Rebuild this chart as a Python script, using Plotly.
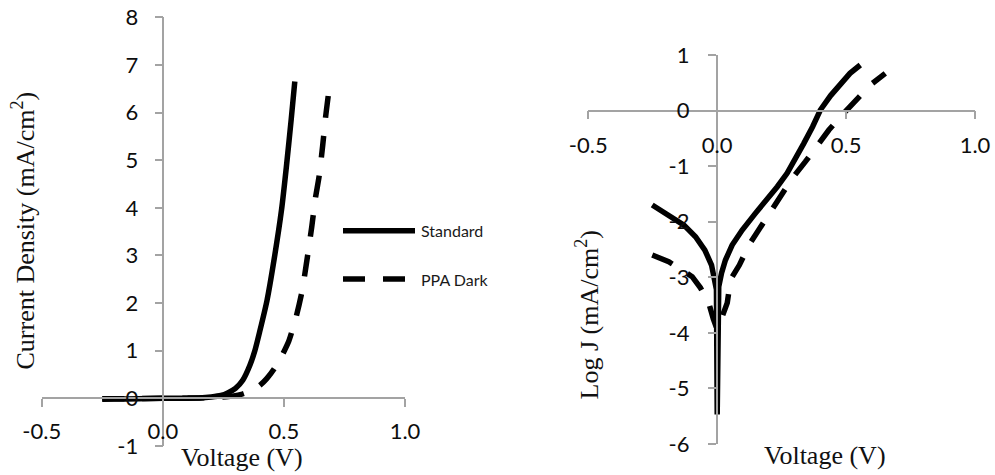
import plotly.graph_objects as go

# ---- J-V data: linear current density (mA/cm^2) ----
v_std_lin = [-0.25, -0.2, -0.1, 0.0, 0.1, 0.15, 0.2, 0.24, 0.27, 0.30, 0.33, 0.36,
             0.38, 0.40, 0.43, 0.46, 0.49, 0.51, 0.53, 0.545]
j_std_lin = [-0.02, -0.015, -0.008, 0.0, 0.005, 0.01, 0.03, 0.06, 0.12, 0.21, 0.38, 0.7,
             1.0, 1.4, 2.05, 2.93, 3.95, 4.85, 5.85, 6.65]

v_ppa_lin = [-0.25, -0.15, 0.0, 0.1, 0.2, 0.27, 0.32, 0.36, 0.40, 0.43, 0.46, 0.49,
             0.52, 0.55, 0.575, 0.595, 0.615, 0.63, 0.645, 0.66, 0.672, 0.683]
j_ppa_lin = [-0.01, -0.006, 0.0, 0.004, 0.015, 0.04, 0.08, 0.15, 0.27, 0.42, 0.62, 0.88,
             1.2, 1.7, 2.25, 2.9, 3.6, 4.2, 4.65, 5.3, 5.9, 6.35]

# ---- J-V data: log current density ----
v_std_log = [-0.252, -0.188, -0.129, -0.084, -0.048, -0.022, -0.009, -0.003, 0.0, 0.003,
             0.006, 0.017, 0.032, 0.058, 0.097, 0.148, 0.194, 0.233, 0.271, 0.305,
             0.336, 0.37, 0.40, 0.44, 0.478, 0.515, 0.555]
l_std_log = [-1.70, -1.88, -2.06, -2.27, -2.51, -2.78, -3.02, -3.22, -5.47, -3.30,
             -3.17, -2.92, -2.69, -2.42, -2.15, -1.85, -1.61, -1.37, -1.13, -0.87,
             -0.59, -0.29, 0.01, 0.27, 0.49, 0.67, 0.82]

v_ppa_log = [-0.252, -0.188, -0.14, -0.097, -0.065, -0.033, -0.015, 0.0, 0.02, 0.039,
             0.052, 0.086, 0.123, 0.164, 0.207, 0.252, 0.291, 0.342, 0.388, 0.433,
             0.484, 0.536, 0.594, 0.652]
l_ppa_log = [-2.60, -2.72, -2.86, -2.99, -3.19, -3.46, -3.75, -3.94, -3.70, -3.46,
             -3.04, -2.78, -2.42, -2.13, -1.80, -1.52, -1.22, -0.92, -0.62, -0.35,
             -0.08, 0.19, 0.46, 0.67]

# ---- tick labels ----
x_tickvals = [-0.5, 0.0, 0.5, 1.0]
x_ticktext = ["-0.5", "0.0", "0.5", "1.0"]
y1_tickvals = [-1, 0, 1, 2, 3, 4, 5, 6, 7, 8]
y1_ticktext = ["-1", "0", "1", "2", "3", "4", "5", "6", "7", "8"]
y2_tickvals = [-6, -5, -4, -3, -2, -1, 0, 1]
y2_ticktext = ["-6", "-5", "-4", "-3", "-2", "-1", "0", "1"]

series_names = ["Standard", "PPA Dark"]

W, H = 995, 475
AXIS_GRAY = "#a3a3a3"
LW = 5.5
DASH = "22px,18px"
TICK_FONT = dict(family="Lato, Noto Sans, sans-serif", size=22, color="#0d0d0d")
TITLE_FONT = dict(family="Liberation Serif, Times New Roman, serif", size=26, color="#111111")


def px_x(p):
    return p / W


def px_y(p):
    return 1 - p / H


fig = go.Figure()

solid = dict(color="black", width=LW)
dashed = dict(color="black", width=LW, dash=DASH)

fig.add_trace(go.Scatter(x=v_std_lin, y=j_std_lin, mode="lines", name=series_names[0],
                         line=dict(**solid, shape="spline", smoothing=0.6),
                         xaxis="x", yaxis="y", cliponaxis=False, showlegend=False))
fig.add_trace(go.Scatter(x=v_ppa_lin, y=j_ppa_lin, mode="lines", name=series_names[1],
                         line=dict(**dashed, shape="spline", smoothing=0.6),
                         xaxis="x", yaxis="y", cliponaxis=False, showlegend=False))
fig.add_trace(go.Scatter(x=v_std_log, y=l_std_log, mode="lines", name=series_names[0],
                         line=solid, xaxis="x2", yaxis="y2", cliponaxis=False,
                         showlegend=False))
fig.add_trace(go.Scatter(x=v_ppa_log, y=l_ppa_log, mode="lines", name=series_names[1],
                         line=dashed, xaxis="x2", yaxis="y2", cliponaxis=False,
                         showlegend=False))

common = dict(showgrid=False, zeroline=False, showline=True, linecolor=AXIS_GRAY,
              linewidth=1.5, ticks="outside", ticklen=8, tickwidth=1.5,
              tickcolor=AXIS_GRAY, tickfont=TICK_FONT, fixedrange=True,
              automargin=False)

# both panels: axes cross at the origin
fig.update_layout(
    xaxis=dict(domain=[px_x(41.7), px_x(405)], range=[-0.5, 1.0], anchor="free",
               position=px_y(398), tickmode="array", tickvals=x_tickvals,
               ticktext=x_ticktext, ticklabelstandoff=6, **common),
    yaxis=dict(domain=[px_y(446), px_y(17.3)], range=[-1, 8], anchor="free",
               position=px_x(163.3), tickmode="array", tickvals=y1_tickvals,
               ticktext=y1_ticktext, ticklabelstandoff=12, **common),
    xaxis2=dict(domain=[px_x(588.3), px_x(975)], range=[-0.5, 1.0], anchor="free",
                position=px_y(110.7), tickmode="array", tickvals=x_tickvals,
                ticktext=x_ticktext, ticklabelstandoff=7, **common),
    yaxis2=dict(domain=[px_y(444), px_y(55)], range=[-6, 1], anchor="free",
                position=px_x(716.7), tickmode="array", tickvals=y2_tickvals,
                ticktext=y2_ticktext, ticklabelstandoff=14, **common),
)

annotations = [
    dict(text="Voltage (V)", x=px_x(242), y=px_y(457), font=TITLE_FONT),
    dict(text="Current Density (mA/cm<sup>2</sup>)", x=px_x(24), y=px_y(230.5),
         textangle=-90, font=TITLE_FONT),
    dict(text="Voltage (V)", x=px_x(825), y=px_y(455), font=TITLE_FONT),
    dict(text="Log J (mA/cm<sup>2</sup>)", x=px_x(587.5), y=px_y(315),
         textangle=-90, font=TITLE_FONT),
]
for a in annotations:
    a.update(xref="paper", yref="paper", showarrow=False, xanchor="center",
             yanchor="middle")

# legend keys for the left panel
legend_font = dict(family="Lato, Noto Sans, sans-serif", size=16, color="#1a1a1a")
legend_rows = [(230.7, None), (279, DASH)]
shapes = []
for (yy, dash), name in zip(legend_rows, series_names):
    line = dict(color="black", width=LW)
    if dash:
        line["dash"] = dash
    shapes.append(dict(type="line", xref="paper", yref="paper",
                       x0=px_x(343), x1=px_x(406 if dash else 415),
                       y0=px_y(yy), y1=px_y(yy), line=line))
    annotations.append(dict(text=name, xref="paper", yref="paper", x=px_x(419),
                            y=px_y(yy), xanchor="left", yanchor="middle",
                            showarrow=False, font=legend_font))

fig.update_layout(
    width=W, height=H, margin=dict(l=0, r=0, t=0, b=0, autoexpand=False),
    paper_bgcolor="white", plot_bgcolor="white",
    annotations=annotations, shapes=shapes, showlegend=False,
)

fig.write_html("out.html")
